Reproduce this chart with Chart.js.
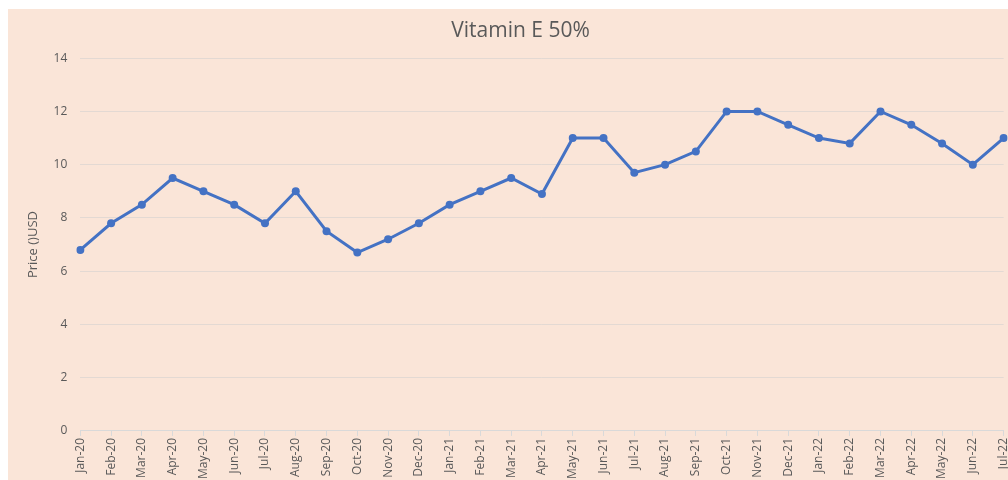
<!DOCTYPE html>
<html>
<head>
<meta charset="utf-8">
<script src="https://cdn.jsdelivr.net/npm/chart.js@4"></script>
<style>
  html, body { margin: 0; padding: 0; background: #fff; overflow: hidden; }
  #wrap { position: absolute; left: 8px; top: 9px; width: 1012px; height: 472px; }
</style>
</head>
<body>
<div id="wrap"><canvas id="chart"></canvas></div>
<script>
const months = ['Jan-20','Feb-20','Mar-20','Apr-20','May-20','Jun-20','Jul-20','Aug-20','Sep-20','Oct-20','Nov-20','Dec-20',
  'Jan-21','Feb-21','Mar-21','Apr-21','May-21','Jun-21','Jul-21','Aug-21','Sep-21','Oct-21','Nov-21','Dec-21',
  'Jan-22','Feb-22','Mar-22','Apr-22','May-22','Jun-22','Jul-22'];
const prices = [6.8, 7.8, 8.5, 9.5, 9.0, 8.5, 7.8, 9.0, 7.5, 6.7, 7.2, 7.8,
  8.5, 9.0, 9.5, 8.9, 11.0, 11.0, 9.7, 10.0, 10.5, 12.0, 12.0, 11.5,
  11.0, 10.8, 12.0, 11.5, 10.8, 10.0, 11.0];
const yTicks = [0, 2, 4, 6, 8, 10, 12, 14];

const bgPlugin = {
  id: 'bg',
  beforeDraw(c) {
    const ctx = c.ctx;
    ctx.save();
    ctx.fillStyle = '#FAE5D8';
    ctx.fillRect(0, 0, c.width, c.height);
    ctx.restore();
  }
};

new Chart(document.getElementById('chart'), {
  type: 'line',
  data: {
    labels: months,
    datasets: [{
      label: 'Price',
      data: prices,
      borderColor: '#4472C4',
      backgroundColor: '#4472C4',
      borderWidth: 3,
      pointRadius: 4,
      pointBorderWidth: 0,
      pointHoverRadius: 4,
      tension: 0
    }]
  },
  options: {
    responsive: true,
    maintainAspectRatio: false,
    animation: false,
    layout: { padding: { left: 17, right: 4, top: 5, bottom: 0 } },
    plugins: {
      legend: { display: false },
      tooltip: { enabled: false },
      title: {
        display: true,
        text: 'Vitamin E 50%',
        color: '#595959',
        font: { family: 'Open Sans', size: 21, weight: 'normal' },
        padding: { top: 4, bottom: 15 }
      }
    },
    scales: {
      x: {
        offset: false,
        grid: { drawOnChartArea: false, drawTicks: true, tickLength: 5, color: '#D9D9D9' },
        border: { color: '#D9D9D9', width: 1 },
        ticks: {
          color: '#595959',
          font: { family: 'Open Sans', size: 12 },
          padding: 2,
          maxRotation: 90,
          minRotation: 90,
          autoSkip: false
        }
      },
      y: {
        min: 0,
        max: 14,
        afterBuildTicks(axis) { axis.ticks = yTicks.map(v => ({ value: v })); },
        grid: { color: '#E3D9D3', drawTicks: false },
        border: { display: false },
        ticks: {
          color: '#595959',
          font: { family: 'Open Sans', size: 12 },
          padding: 13
        },
        title: {
          display: true,
          text: 'Price ()USD',
          color: '#595959',
          font: { family: 'Open Sans', size: 13 },
          padding: { top: 0, bottom: 0 }
        }
      }
    }
  },
  plugins: [bgPlugin]
});
</script>
</body>
</html>
